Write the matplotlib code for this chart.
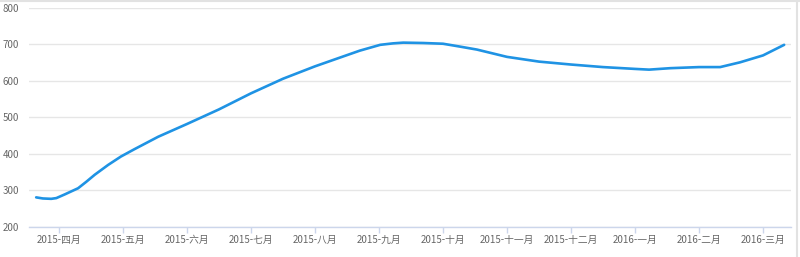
import matplotlib.pyplot as plt
from matplotlib.lines import Line2D

# etiquetas de los meses (eje x)
meses = ['2015-四月', '2015-五月', '2015-六月', '2015-七月', '2015-八月', '2015-九月',
         '2015-十月', '2015-十一月', '2015-十二月', '2016-一月', '2016-二月', '2016-三月']

# posicion de cada punto medida en meses (0 = 2015-四月)
pos_mes = [-0.355, -0.25, -0.12, -0.04, 0.09, 0.30, 0.43, 0.56, 0.77, 0.97, 1.18,
           1.55, 2.0, 2.5, 3.0, 3.5, 4.0, 4.39, 4.70, 5.02, 5.22, 5.38, 5.69,
           6.0, 6.27, 6.53, 7.0, 7.5, 8.0, 8.5, 9.0, 9.22, 9.55, 10.0, 10.33,
           10.64, 11.0, 11.33]
valores = [281, 278, 277, 279, 289, 306, 324, 343, 370, 393, 413,
           447, 482, 522, 566, 606, 640, 664, 683, 699, 703, 705, 704,
           702, 694, 686, 666, 653, 645, 638, 633, 631, 635, 638, 638,
           651, 670, 699]

plt.rcParams['font.family'] = ['Noto Sans CJK SC', 'DejaVu Sans']

fig = plt.figure(figsize=(8, 2.57), dpi=100)
ax = fig.add_axes([0.036, 0.117, 0.953, 0.852])

ax.plot(pos_mes, valores, color='#1f93e4', lw=1.9, solid_joinstyle='round',
        solid_capstyle='round', zorder=3)

ax.set_xlim(-0.47, 11.44)
ax.set_ylim(200, 800)
ax.set_yticks(range(200, 801, 100))
ax.set_xticks(range(len(meses)))
ax.set_xticklabels(meses)

ax.grid(True, axis='y', color='#e6e6e6', lw=1)
ax.set_axisbelow(True)
for s in ['top', 'right', 'left']:
    ax.spines[s].set_visible(False)
ax.spines['bottom'].set_color('#ccd6eb')
ax.spines['bottom'].set_linewidth(1)

ax.tick_params(axis='x', colors='#ccd6eb', length=4, width=1, pad=2,
               labelcolor='#666666', labelsize=7)
ax.tick_params(axis='y', length=0, pad=7, labelcolor='#666666', labelsize=7)

# borde del contenedor
fig.add_artist(Line2D([0, 1], [0.996, 0.996], color='#e2e2e2', lw=1.5))
fig.add_artist(Line2D([0.996, 0.996], [0, 1], color='#e2e2e2', lw=1.5))

fig.savefig('out.png', dpi=100)
